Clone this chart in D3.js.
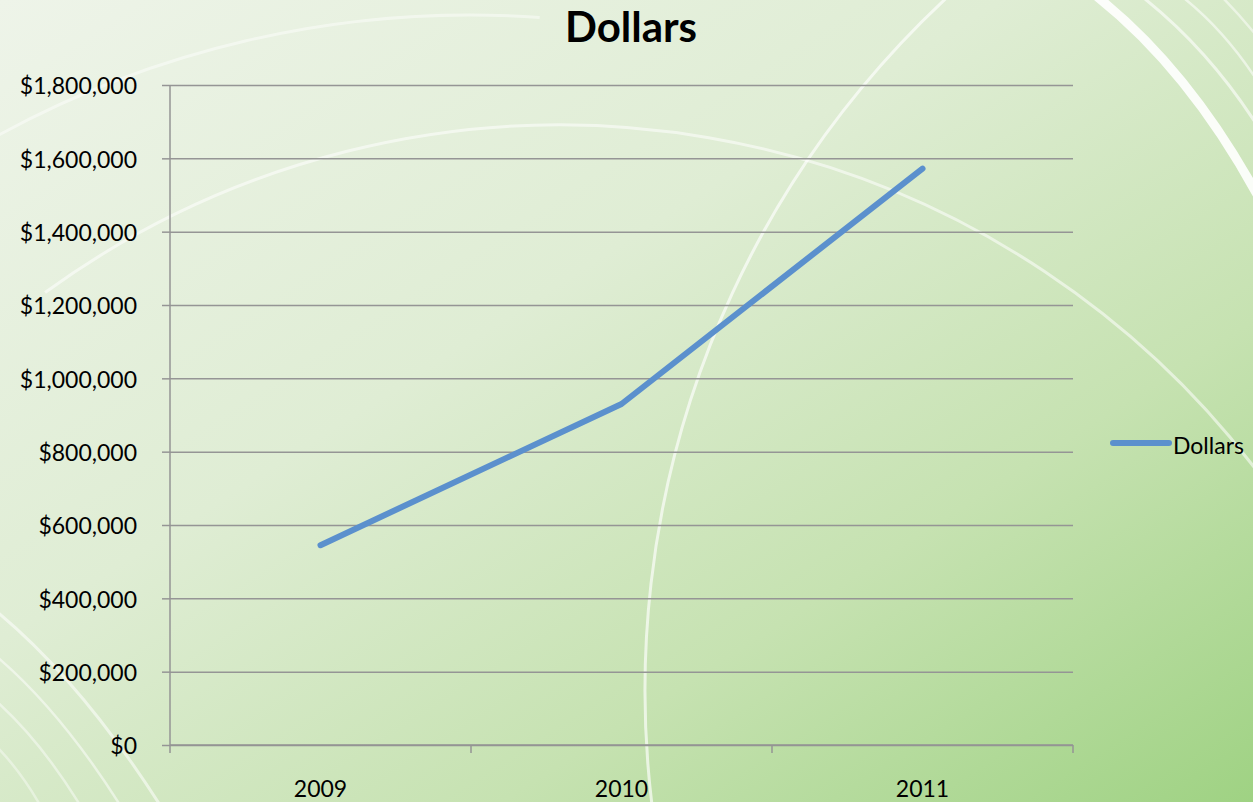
<!DOCTYPE html>
<html>
<head>
<meta charset="utf-8">
<script src="https://cdn.jsdelivr.net/npm/d3@7"></script>
<style>
  html, body { margin: 0; padding: 0; overflow: hidden; }
  svg { display: block; }
  text { font-family: Lato, "Open Sans", sans-serif; fill: #000; }
</style>
</head>
<body>
<svg id="chart"></svg>
<script>
"use strict";

/*
*  DATA
*/

var years = ['2009', '2010', '2011'];
var dollars = [545000, 930000, 1572000];
var yTicks = [0, 200000, 400000, 600000, 800000, 1000000, 1200000, 1400000, 1600000, 1800000];
var seriesName = 'Dollars';

/*
*  RUN
*/

drawChart();

function drawChart() {
  var width = 1253,
      height = 802;
  var plot = { left: 170, right: 1073, top: 85, bottom: 745 };

  var svg = d3.select('#chart').attr('width', width).attr('height', height);

  drawBackground(svg, width, height);

  var x = d3.scaleBand().domain(years).range([plot.left, plot.right]);
  var y = d3.scaleLinear().domain([0, 1800000]).range([plot.bottom, plot.top]);

  // GRIDLINES + LEFT AXIS
  var yAxis = d3.axisLeft(y)
    .tickValues(yTicks)
    .tickSize(-(plot.right - plot.left))
    .tickPadding(33)
    .tickFormat(function (d) { return '$' + d3.format(',')(d); });

  var gy = svg.append('g').attr('transform', 'translate(' + plot.left + ',0)').call(yAxis);
  gy.select('.domain').remove();
  gy.selectAll('.tick line').attr('stroke', '#959595').attr('stroke-width', 1.5);
  // small outer tick to the left of the axis
  gy.selectAll('.tick').append('line')
    .attr('x1', -8).attr('x2', 0)
    .attr('stroke', '#959595').attr('stroke-width', 1.5);
  gy.selectAll('.tick text')
    .attr('font-size', 23)
    .attr('dy', '0.38em')
    .style('font-family', 'Lato, sans-serif');

  svg.append('line')
    .attr('x1', plot.left).attr('x2', plot.left)
    .attr('y1', plot.top).attr('y2', plot.bottom)
    .attr('stroke', '#959595').attr('stroke-width', 1.5);

  // BOTTOM AXIS
  var gx = svg.append('g').attr('transform', 'translate(0,' + plot.bottom + ')');
  gx.append('line')
    .attr('x1', plot.left).attr('x2', plot.right)
    .attr('stroke', '#959595').attr('stroke-width', 1.5);
  var bounds = years.map(function (d) { return x(d); }).concat([plot.right]);
  gx.selectAll('.xtick').data(bounds).enter().append('line')
    .attr('x1', function (d) { return d; }).attr('x2', function (d) { return d; })
    .attr('y1', 0).attr('y2', 8)
    .attr('stroke', '#959595').attr('stroke-width', 1.5);
  gx.selectAll('.xlabel').data(years).enter().append('text')
    .attr('x', function (d) { return x(d) + x.bandwidth() / 2; })
    .attr('y', 52)
    .attr('text-anchor', 'middle')
    .attr('font-size', 23)
    .text(function (d) { return d; });

  // LINE
  var line = d3.line()
    .x(function (d, i) { return x(years[i]) + x.bandwidth() / 2; })
    .y(function (d) { return y(d); });

  svg.append('path')
    .datum(dollars)
    .attr('d', line)
    .attr('fill', 'none')
    .attr('stroke', '#5b90cd')
    .attr('stroke-width', 6)
    .attr('stroke-linecap', 'round')
    .attr('stroke-linejoin', 'round');

  // TITLE
  svg.append('text')
    .attr('x', 631).attr('y', 42)
    .attr('text-anchor', 'middle')
    .attr('font-size', 42)
    .attr('font-weight', 'bold')
    .text(seriesName);

  // LEGEND
  var lg = svg.append('g').attr('transform', 'translate(1113,443)');
  lg.append('line')
    .attr('x1', 0).attr('x2', 56)
    .attr('stroke', '#5b90cd').attr('stroke-width', 6)
    .attr('stroke-linecap', 'round');
  lg.append('text')
    .attr('x', 60).attr('y', 0)
    .attr('dy', '0.48em')
    .attr('font-size', 23)
    .text(seriesName);
}

function drawBackground(svg, width, height) {
  var defs = svg.append('defs');
  var grad = defs.append('linearGradient')
    .attr('id', 'bg').attr('x1', 0).attr('y1', 0).attr('x2', 1).attr('y2', 1);
  [[0, '#eef4e9'], [0.4, '#dfedd4'], [0.7, '#c6e2b1'], [1, '#9fd283']].forEach(function (s) {
    grad.append('stop').attr('offset', s[0]).attr('stop-color', s[1]);
  });
  svg.append('rect').attr('width', width).attr('height', height).attr('fill', 'url(#bg)');

  var g = svg.append('g').attr('fill', 'none').attr('stroke', '#ffffff');

  // big circular arcs
  var arcs = [
    { cx: 560, cy: 1000, r: 875, a0: -2.2, a1: -0.6, w: 3, o: 0.55 },
    { cx: 470, cy: 1000, r: 985, a0: -2.1, a1: -1.5, w: 3, o: 0.45 },
    { cx: 1590, cy: 690, r: 945, a0: 2.95, a1: 4.2, w: 3, o: 0.65 }
  ];
  g.selectAll('path.arc').data(arcs).enter().append('path')
    .attr('class', 'arc')
    .attr('d', function (d) {
      var p = d3.path();
      p.arc(d.cx, d.cy, d.r, d.a0, d.a1);
      return p.toString();
    })
    .attr('stroke-opacity', function (d) { return d.o; })
    .attr('stroke-width', function (d) { return d.w; });

  // swooshes in the corners
  var curves = [
    { p: [1095, -5, 1190, 70, 1260, 200], w: 9, o: 0.9 },
    { p: [1140, -5, 1210, 50, 1260, 130], w: 3, o: 0.6 },
    { p: [1180, -5, 1225, 30, 1260, 85], w: 2.5, o: 0.55 },
    { p: [1220, -5, 1240, 15, 1260, 40], w: 2.5, o: 0.5 },
    { p: [-5, 610, 80, 680, 160, 805], w: 3, o: 0.55 },
    { p: [-5, 655, 60, 710, 120, 805], w: 2.5, o: 0.5 },
    { p: [-5, 700, 40, 740, 80, 805], w: 2.5, o: 0.45 },
    { p: [-5, 745, 20, 770, 40, 805], w: 2.5, o: 0.4 }
  ];
  g.selectAll('path.curve').data(curves).enter().append('path')
    .attr('class', 'curve')
    .attr('d', function (d) {
      var p = d3.path();
      p.moveTo(d.p[0], d.p[1]);
      p.quadraticCurveTo(d.p[2], d.p[3], d.p[4], d.p[5]);
      return p.toString();
    })
    .attr('stroke-opacity', function (d) { return d.o; })
    .attr('stroke-width', function (d) { return d.w; })
    .attr('stroke-linecap', 'round');
}
</script>
</body>
</html>
